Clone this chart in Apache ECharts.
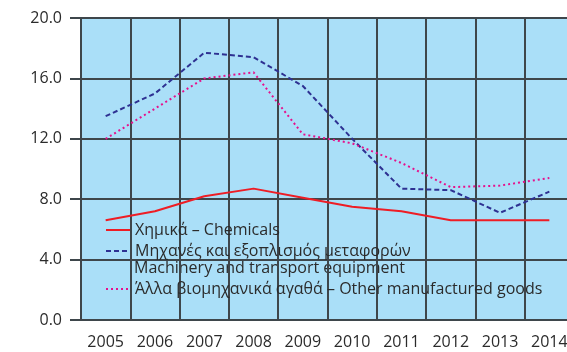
<!DOCTYPE html>
<html>
<head>
<meta charset="utf-8">
<script src="https://cdn.jsdelivr.net/npm/echarts@6/dist/echarts.min.js"></script>
<style>
  html, body { margin: 0; padding: 0; background: #ffffff; overflow: hidden; }
  #chart { width: 574px; height: 352px; }
</style>
</head>
<body>
<div id="chart"></div>
<script>
// Years on the horizontal axis
const years = ['2005', '2006', '2007', '2008', '2009', '2010', '2011', '2012', '2013', '2014'];

// Series values (%)
const chemicals = [6.6, 7.2, 8.2, 8.7, 8.1, 7.5, 7.2, 6.6, 6.6, 6.6];
const machinery = [13.5, 15.0, 17.7, 17.4, 15.5, 12.0, 8.7, 8.6, 7.1, 8.5];
const otherGoods = [12.0, 14.0, 16.0, 16.4, 12.3, 11.7, 10.4, 8.8, 8.9, 9.4];

// Series names as shown in the legend
const nameChem = 'Χημικά – Chemicals';
const nameMach = 'Μηχανές και εξοπλισμός μεταφορών';
const nameMachEn = 'Machinery and transport equipment';
const nameOther = 'Άλλα βιομηχανικά αγαθά – Other manufactured goods';

// Value-axis ticks
const yMin = 0, yMax = 20, yStep = 4;

const font = 'Open Sans';
const textColor = '#2b2b2b';
const gridColor = '#3e464b';

const chart = echarts.init(document.getElementById('chart'), null, { renderer: 'canvas' });

function legendAt(top, names) {
  return {
    orient: 'vertical',
    left: 105,
    top: top,
    padding: 0,
    itemWidth: 24,
    itemHeight: 14,
    itemGap: 4,
    data: names,
    itemStyle: { opacity: 0 },
    textStyle: { fontFamily: font, fontSize: 16, color: textColor, lineHeight: 17 },
    selectedMode: false
  };
}

chart.setOption({
  animation: false,
  grid: {
    left: 81, top: 18, right: 0, bottom: 32,
    show: true, backgroundColor: '#aadff8', borderWidth: 0
  },
  legend: [legendAt(221.5, [nameChem, nameMach]), legendAt(280.5, [nameOther])],
  graphic: [{
    type: 'text',
    left: 134,
    top: 259.5,
    style: { text: nameMachEn, font: '16px "Open Sans"', fill: textColor, lineHeight: 17 }
  }],
  xAxis: {
    type: 'category',
    data: years,
    boundaryGap: true,
    axisLine: { show: true, lineStyle: { color: gridColor, width: 2 } },
    axisTick: { show: false },
    axisLabel: { interval: 0, margin: 14, fontFamily: font, fontSize: 16, color: textColor },
    splitLine: { show: true, interval: 0, lineStyle: { color: gridColor, width: 2 } }
  },
  yAxis: {
    type: 'value',
    min: yMin, max: yMax, interval: yStep,
    axisLine: { show: true, lineStyle: { color: gridColor, width: 2 } },
    axisTick: { show: true, inside: false, length: 11, lineStyle: { color: gridColor, width: 2 } },
    axisLabel: {
      margin: 19, fontFamily: font, fontSize: 16, color: textColor,
      formatter: v => v.toFixed(1)
    },
    splitLine: { show: true, lineStyle: { color: gridColor, width: 2 } }
  },
  series: [
    {
      name: nameChem, type: 'line', data: chemicals,
      symbol: 'none', color: '#ee1d25',
      lineStyle: { width: 2, color: '#ee1d25', type: 'solid' }
    },
    {
      name: nameMach, type: 'line', data: machinery,
      symbol: 'none', color: '#2e3192',
      lineStyle: { width: 2, color: '#2e3192', type: [5, 3] }
    },
    {
      name: nameOther, type: 'line', data: otherGoods,
      symbol: 'none', color: '#e6118c',
      lineStyle: { width: 2, color: '#e6118c', type: [2, 3] }
    }
  ]
});
</script>
</body>
</html>
